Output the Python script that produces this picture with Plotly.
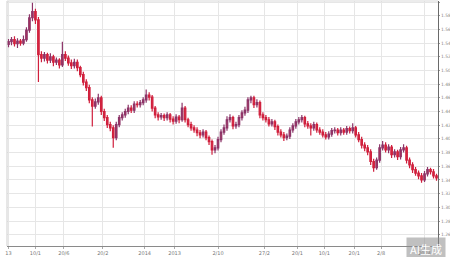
import plotly.graph_objects as go

# ---- data ----
opens = [1.538,1.542,1.545,1.539,1.543,1.540,1.545,1.559,1.577,1.586,
         1.574,1.523,1.518,1.523,1.515,1.520,1.512,1.515,1.508,1.523,
         1.518,1.511,1.507,1.512,1.504,1.494,1.483,1.475,1.457,1.448,
         1.454,1.460,1.440,1.431,1.421,1.416,1.402,1.421,1.431,1.435,
         1.440,1.445,1.442,1.451,1.450,1.453,1.457,1.464,1.461,1.445,
         1.435,1.432,1.434,1.431,1.435,1.429,1.426,1.432,1.428,1.445,
         1.428,1.421,1.416,1.413,1.409,1.406,1.410,1.402,1.396,1.384,
         1.387,1.399,1.410,1.416,1.428,1.431,1.419,1.421,1.431,1.438,
         1.442,1.457,1.460,1.450,1.453,1.435,1.431,1.428,1.422,1.425,
         1.418,1.410,1.406,1.402,1.404,1.413,1.419,1.425,1.428,1.431,
         1.422,1.419,1.416,1.421,1.413,1.410,1.406,1.403,1.407,1.412,
         1.413,1.409,1.413,1.410,1.415,1.412,1.416,1.406,1.399,1.391,
         1.387,1.381,1.367,1.358,1.369,1.387,1.391,1.384,1.388,1.377,
         1.381,1.374,1.384,1.387,1.369,1.362,1.355,1.350,1.346,1.340,
         1.349,1.355,1.352,1.346]
closes = [1.542,1.545,1.539,1.543,1.540,1.545,1.559,1.577,1.586,1.574,
          1.523,1.518,1.523,1.515,1.520,1.512,1.515,1.508,1.523,1.518,
          1.511,1.507,1.512,1.504,1.494,1.483,1.475,1.457,1.448,1.454,
          1.460,1.440,1.431,1.421,1.416,1.402,1.421,1.431,1.435,1.440,
          1.445,1.442,1.451,1.450,1.453,1.457,1.464,1.461,1.445,1.435,
          1.432,1.434,1.431,1.435,1.429,1.426,1.432,1.428,1.445,1.428,
          1.421,1.416,1.413,1.409,1.406,1.410,1.402,1.396,1.384,1.387,
          1.399,1.410,1.416,1.428,1.431,1.419,1.421,1.431,1.438,1.442,
          1.457,1.460,1.450,1.453,1.435,1.431,1.428,1.422,1.425,1.418,
          1.410,1.406,1.402,1.404,1.413,1.419,1.425,1.428,1.431,1.422,
          1.419,1.416,1.421,1.413,1.410,1.406,1.403,1.407,1.412,1.413,
          1.409,1.413,1.410,1.415,1.412,1.416,1.406,1.399,1.391,1.387,
          1.381,1.367,1.358,1.369,1.387,1.391,1.384,1.388,1.377,1.381,
          1.374,1.384,1.387,1.369,1.362,1.355,1.350,1.346,1.340,1.349,
          1.355,1.352,1.346,1.343]
highs = [1.546,1.549,1.550,1.547,1.546,1.551,1.563,1.582,1.599,1.590,
         1.578,1.528,1.527,1.526,1.525,1.523,1.519,1.518,1.542,1.528,
         1.522,1.516,1.517,1.516,1.507,1.498,1.487,1.479,1.461,1.459,
         1.466,1.463,1.444,1.435,1.425,1.420,1.425,1.435,1.439,1.444,
         1.450,1.449,1.455,1.455,1.457,1.461,1.472,1.468,1.464,1.448,
         1.439,1.438,1.437,1.439,1.438,1.433,1.436,1.435,1.453,1.448,
         1.431,1.425,1.420,1.417,1.413,1.414,1.413,1.405,1.399,1.391,
         1.403,1.414,1.421,1.433,1.436,1.434,1.425,1.435,1.442,1.447,
         1.461,1.463,1.463,1.458,1.456,1.439,1.435,1.432,1.429,1.428,
         1.421,1.414,1.410,1.408,1.417,1.423,1.429,1.432,1.435,1.434,
         1.426,1.423,1.425,1.424,1.417,1.414,1.410,1.411,1.416,1.417,
         1.416,1.417,1.416,1.419,1.418,1.423,1.419,1.410,1.403,1.395,
         1.391,1.385,1.371,1.373,1.392,1.397,1.395,1.392,1.391,1.385,
         1.384,1.388,1.392,1.390,1.373,1.366,1.359,1.354,1.350,1.353,
         1.359,1.358,1.356,1.349]
lows = [1.534,1.537,1.535,1.533,1.536,1.537,1.542,1.555,1.572,1.568,
        1.483,1.512,1.513,1.510,1.511,1.506,1.508,1.503,1.505,1.514,
        1.507,1.502,1.503,1.499,1.490,1.478,1.470,1.452,1.418,1.444,
        1.450,1.435,1.426,1.416,1.411,1.387,1.398,1.417,1.427,1.431,
        1.436,1.438,1.438,1.446,1.446,1.449,1.453,1.456,1.440,1.430,
        1.427,1.428,1.426,1.427,1.424,1.421,1.422,1.423,1.425,1.424,
        1.417,1.412,1.409,1.404,1.401,1.402,1.398,1.391,1.377,1.379,
        1.383,1.395,1.406,1.412,1.424,1.414,1.415,1.417,1.427,1.434,
        1.438,1.452,1.445,1.446,1.430,1.427,1.424,1.418,1.418,1.413,
        1.405,1.402,1.397,1.398,1.400,1.409,1.415,1.421,1.424,1.417,
        1.415,1.405,1.412,1.409,1.406,1.402,1.399,1.399,1.403,1.408,
        1.405,1.405,1.406,1.406,1.408,1.408,1.402,1.395,1.386,1.382,
        1.376,1.362,1.352,1.355,1.365,1.383,1.380,1.379,1.372,1.373,
        1.369,1.370,1.380,1.364,1.357,1.350,1.346,1.341,1.336,1.337,
        1.345,1.348,1.342,1.339]
periods = list(range(len(closes)))

tick_positions = [0, 9, 18.5, 31.5, 45.5, 55.5, 70, 85.5, 96.5, 105.5, 115.5, 124.5, 139]
tick_labels = ["13", "10/1", "20/6", "20/2", "2014", "2013", "2/10", "27/2",
               "20/1", "10/1", "20/1", "2/8", "2024"]
y_tick_values = [1.60, 1.58, 1.56, 1.54, 1.52, 1.50, 1.48, 1.46, 1.44, 1.42,
                 1.40, 1.38, 1.36, 1.34, 1.32, 1.30, 1.28, 1.26]
y_tick_labels = ["1.60", "1.58", "1.56", "1.54", "1.52", "1.50", "1.48", "1.46", "1.44",
                 "1.42", "1.40", "1.38", "1.36", "1.34", "1.32", "1.30", "1.28", "1.26"]

fig = go.Figure(go.Candlestick(
    x=periods, open=opens, high=highs, low=lows, close=closes,
    increasing=dict(line=dict(color="#8c3468", width=1.2), fillcolor="#d42a44"),
    decreasing=dict(line=dict(color="#d01f3c", width=1.2), fillcolor="#dc2f4a"),
    whiskerwidth=0, showlegend=False, hoverinfo="skip",
))

fig.update_layout(
    width=450, height=257,
    margin=dict(l=7, r=12, t=1, b=11, autoexpand=False),
    paper_bgcolor="white", plot_bgcolor="white",
    showlegend=False,
    xaxis=dict(
        range=[-0.5, 143.5], rangeslider=dict(visible=False),
        tickmode="array", tickvals=tick_positions, ticktext=tick_labels,
        showgrid=True, gridcolor="#e6e6e6", gridwidth=1,
        showline=True, linecolor="#8a8a8a", linewidth=1,
        ticks="outside", ticklen=2, tickcolor="#aaa",
        tickfont=dict(size=5, color="#777", family="DejaVu Sans"),
        zeroline=False, fixedrange=True,
    ),
    yaxis=dict(
        side="right", range=[1.2435, 1.6015],
        tickmode="array", tickvals=y_tick_values, ticktext=y_tick_labels,
        showgrid=True, gridcolor="#e6e6e6", gridwidth=1,
        showline=True, linecolor="#6a6a6a", linewidth=1,
        ticks="outside", ticklen=1, tickcolor="#999",
        ticklabelstandoff=0,
        tickfont=dict(size=4.5, color="#888", family="DejaVu Sans"),
        zeroline=False, fixedrange=True,
    ),
    shapes=[
        dict(type="line", xref="paper", yref="paper", x0=0, x1=0, y0=0, y1=1,
             line=dict(color="#cfcfcf", width=1)),
        dict(type="line", xref="paper", yref="paper", x0=0, x1=1, y0=1, y1=1,
             line=dict(color="#d9d9d9", width=1)),
    ],
    annotations=[
        dict(xref="paper", yref="paper", x=1.0, y=0, xanchor="right", yanchor="top",
             xshift=8, yshift=9,
             text="AI生成", showarrow=False,
             font=dict(size=11, color="white", family="Noto Sans CJK SC"),
             bgcolor="rgba(140,140,140,0.55)", borderpad=3),
    ],
)

fig.write_html("out.html")
